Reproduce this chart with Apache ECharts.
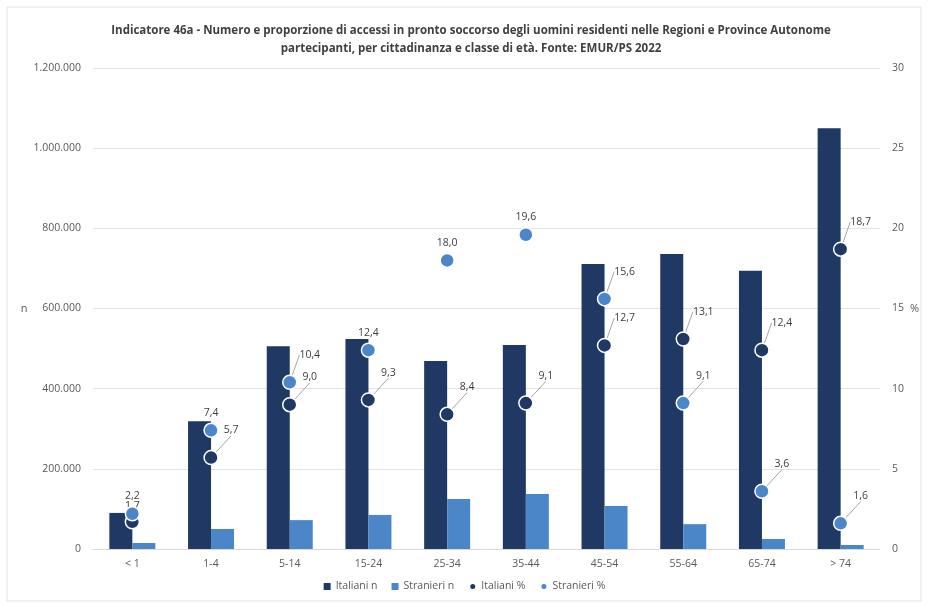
<!DOCTYPE html>
<html><head><meta charset="utf-8">
<script src="https://cdn.jsdelivr.net/npm/echarts@6/dist/echarts.min.js"></script>
<style>html,body{margin:0;padding:0;background:#fff}#c{width:929px;height:603px}</style>
</head><body><div id="c"></div>
<script>
const categories = ['< 1','1-4','5-14','15-24','25-34','35-44','45-54','55-64','65-74','> 74'];
const italianiN = [90000, 319000, 506000, 524000, 469000, 509000, 711000, 736000, 694000, 1050000];
const stranieriN = [15000, 50000, 72000, 85000, 125000, 137000, 107000, 62000, 25000, 10000];
const italianiPct = [1.7, 5.7, 9.0, 9.3, 8.4, 9.1, 12.7, 13.1, 12.4, 18.7];
const stranieriPct = [2.2, 7.4, 10.4, 12.4, 18.0, 19.6, 15.6, 9.1, 3.6, 1.6];

const navy = '#1f3864', blue = '#4a86c8';
const fmtN = v => v.toLocaleString('de-DE');
const fmtP = v => v.toFixed(1).replace('.', ',');
// which labels use a leader line (moved upper-right)
const itaLeader = [false, true, true, true, true, true, true, true, true, true];
const strLeader = [false, false, true, false, false, false, true, true, true, true];

function pctData(vals, leaders){
  return vals.map((v,i)=>({value:v, labelLine:{show:leaders[i]}}));
}

const chart = echarts.init(document.getElementById('c'));
chart.setOption({
  backgroundColor:'#fff',
  animation:false,
  textStyle:{fontFamily:'Open Sans'},
  title:{
    text:'Indicatore 46a - Numero e proporzione di accessi in pronto soccorso degli uomini residenti nelle Regioni e Province Autonome\npartecipanti, per cittadinanza e classe di età. Fonte: EMUR/PS 2022',
    left:466, top:17, textAlign:'center',
    textStyle:{fontSize:11.5, fontWeight:'bold', color:'#404040', lineHeight:18, fontFamily:'Open Sans', align:'center'}
  },
  graphic:[{type:'rect', shape:{x:7,y:7,width:914,height:594}, style:{fill:'none', stroke:'#e3e3e3', lineWidth:1}, silent:true}],
  legend:{
    bottom:6, left:'center', itemWidth:7, itemHeight:7, itemGap:14,
    textStyle:{fontSize:10.5, color:'#595959'},
    data:[
      {name:'Italiani n', icon:'rect'},
      {name:'Stranieri n', icon:'rect'},
      {name:'Italiani %', icon:'circle'},
      {name:'Stranieri %', icon:'circle'}
    ]
  },
  grid:{left:93, right:49, top:68, bottom:54},
  xAxis:{
    type:'category', data:categories,
    axisLine:{lineStyle:{color:'#d9d9d9'}}, axisTick:{show:false},
    axisLabel:{color:'#595959', fontSize:10.5, margin:10}
  },
  yAxis:[
    {type:'value', min:0, max:1200000, interval:200000, name:'n', nameLocation:'middle', nameGap:62, nameRotate:0,
     nameTextStyle:{color:'#595959', fontSize:11},
     axisLabel:{formatter:fmtN, color:'#595959', fontSize:10.5, margin:12},
     splitLine:{lineStyle:{color:'#e3e3e3'}}, axisLine:{show:false}, axisTick:{show:false}},
    {type:'value', min:0, max:30, interval:5, name:'%', nameLocation:'middle', nameGap:28, nameRotate:0,
     nameTextStyle:{color:'#595959', fontSize:11},
     axisLabel:{color:'#595959', fontSize:10.5, margin:12},
     splitLine:{show:false}, axisLine:{show:false}, axisTick:{show:false}}
  ],
  series:[
    {name:'Italiani n', type:'bar', data:italianiN, barWidth:23, barGap:'0%', itemStyle:{color:navy}},
    {name:'Stranieri n', type:'bar', data:stranieriN, barWidth:23, itemStyle:{color:blue}},
    {name:'Italiani %', type:'line', yAxisIndex:1, data:pctData(italianiPct, itaLeader),
     symbol:'circle', symbolSize:14, lineStyle:{opacity:0}, z:5,
     itemStyle:{color:navy, borderColor:'#ffffff', borderWidth:1.5},
     label:{show:true, position:'top', distance:4, formatter:p=>fmtP(p.value), color:'#404040', fontSize:10.5},
     labelLine:{show:true, lineStyle:{color:'#a6a6a6', width:1}},
     labelLayout:function(p){
       if(!itaLeader[p.dataIndex]) return {dy:2};
       return {dx:20, dy:-10};
     }},
    {name:'Stranieri %', type:'line', yAxisIndex:1, data:pctData(stranieriPct, strLeader),
     symbol:'circle', symbolSize:14, lineStyle:{opacity:0}, z:6,
     itemStyle:{color:blue, borderColor:'#ffffff', borderWidth:1.5},
     label:{show:true, position:'top', distance:4, formatter:p=>fmtP(p.value), color:'#404040', fontSize:10.5},
     labelLine:{show:true, lineStyle:{color:'#a6a6a6', width:1}},
     labelLayout:function(p){
       if(!strLeader[p.dataIndex]) return {dy:0};
       return {dx:20, dy:-10};
     }}
  ]
});
</script></body></html>
